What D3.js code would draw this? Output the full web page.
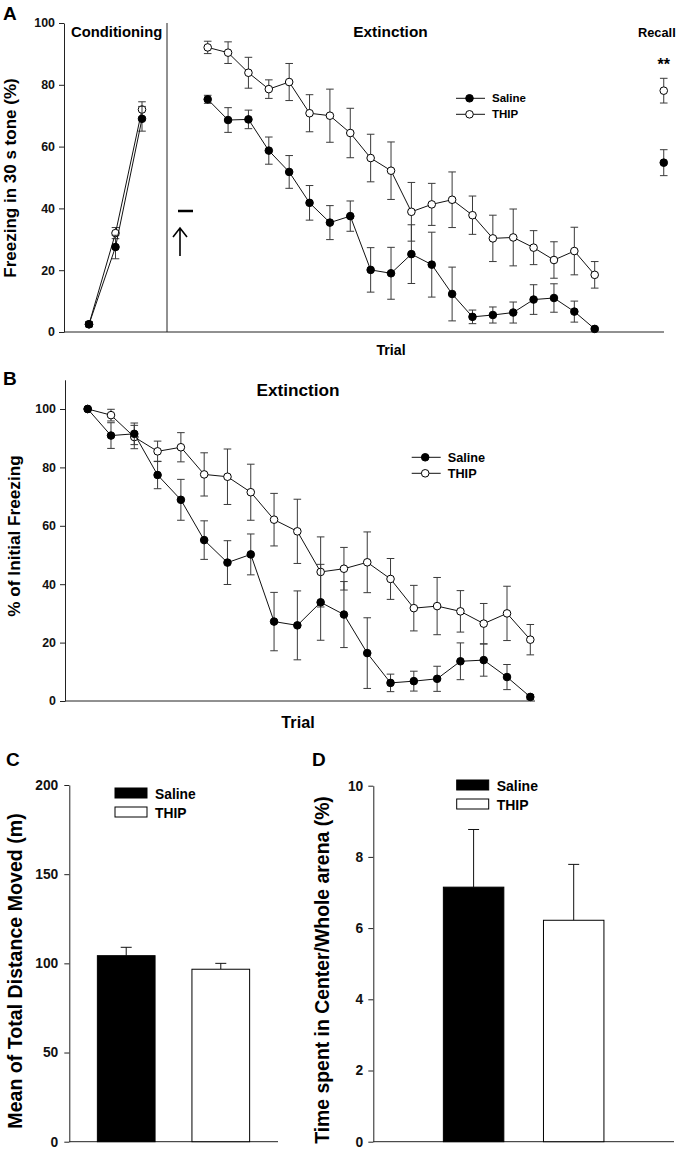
<!DOCTYPE html>
<meta charset="utf-8">
<style>
body{margin:0;background:white;}
svg{display:block;font-family:"Liberation Sans",Arial,Helvetica,sans-serif;font-weight:bold;}
.axis path,.axis line{stroke:#222;}
.axis text{font-weight:bold;fill:#111;}
</style>
<body>
<script src="https://cdn.jsdelivr.net/npm/d3@7"></script>
<script>
// ---- panel A: conditioning / extinction / recall (freezing %) ----
var condTrials = [1, 2, 3];
var condSaline = [2.5, 27.5, 69];
var condSalineErr = [0.8, 3.8, 4];
var condThip = [2.5, 32, 72];
var condThipErr = [0.8, 1.8, 2.5];

var extTrials = d3.range(1, 21);
var extSaline = [75.3, 68.6, 68.8, 58.7, 51.8, 41.8, 35.4, 37.5, 20.1, 19.0,
                 25.2, 21.8, 12.3, 4.9, 5.5, 6.3, 10.5, 11.0, 6.6, 1.0];
var extSalineErr = [1.3, 4, 3, 4.4, 5.3, 5.6, 5.5, 4.9, 7.2, 8.4,
                    9.5, 10.5, 8.7, 2.2, 2.6, 3.4, 4.8, 4.6, 3.4, 0.5];
var extThip = [92.1, 90.4, 83.9, 78.6, 80.9, 70.8, 70.0, 64.4, 56.3, 52.2,
               38.9, 41.3, 42.8, 37.8, 30.3, 30.6, 27.3, 23.3, 26.2, 18.5];
var extThipErr = [2, 3.5, 5, 3, 6, 6, 8.6, 8, 7.7, 9.3,
                  9.5, 6.8, 9, 6.2, 7.5, 9.2, 5.5, 5.9, 7.7, 4.3];

var recallSaline = 54.8, recallSalineErr = 4.2;
var recallThip = 78.1, recallThipErr = 4;

// ---- panel B: % of initial freezing ----
var bSaline = [100, 90.9, 91.5, 77.4, 68.9, 55.1, 47.4, 50.2, 27.2, 25.9,
               33.8, 29.6, 16.4, 6.2, 6.8, 7.6, 13.6, 14.0, 8.2, 1.4];
var bSalineErr = [0, 4.4, 3.7, 4.7, 7, 6.6, 7.5, 7, 10, 11.8,
                  13, 11.3, 12.1, 3, 3.4, 4.3, 6.3, 5.5, 4.3, 0.8];
var bThip = [100, 97.9, 90.4, 85.5, 86.9, 77.6, 76.8, 71.5, 62.1, 58.1,
             44.2, 45.3, 47.5, 41.8, 31.8, 32.5, 30.7, 26.5, 30.0, 21.0];
var bThipErr = [0, 2, 4, 3.5, 5, 7.4, 9.5, 9.6, 9, 11,
                12, 7.3, 10.4, 7, 7.8, 9.8, 7.1, 6.9, 9.3, 5.2];

// ---- panels C, D: open field ----
var groups = ["Saline", "THIP"];
var distMean = [104.3, 96.7];
var distErr = [4.7, 3.3];
var centerMean = [7.15, 6.22];
var centerErr = [1.62, 1.57];

var svg = d3.select("body").append("svg").attr("width", 685).attr("height", 1150);

function pts(ts, vs, es) {
  return ts.map(function(t, i) { return {t: t, v: vs[i], e: es[i]}; });
}

function drawSeries(g, data, x, y, filled, noLine) {
  g.selectAll(null).data(data.filter(function(d){ return d.e > 0; })).enter()
    .append("path")
    .attr("d", function(d) {
      var cx = x(d.t), y1 = y(d.v + d.e), y2 = y(d.v - d.e);
      return "M" + cx + "," + y1 + "V" + y2 +
             "M" + (cx - 3.8) + "," + y1 + "H" + (cx + 3.8) +
             "M" + (cx - 3.8) + "," + y2 + "H" + (cx + 3.8);
    })
    .attr("stroke", "#3a3a3a").attr("stroke-width", 1).attr("fill", "none");
  if (!noLine) {
    g.append("path").datum(data)
      .attr("d", d3.line().x(function(d){ return x(d.t); }).y(function(d){ return y(d.v); }))
      .attr("stroke", "#111").attr("stroke-width", 1).attr("fill", "none");
  }
  g.selectAll(null).data(data).enter().append("circle")
    .attr("cx", function(d){ return x(d.t); })
    .attr("cy", function(d){ return y(d.v); })
    .attr("r", 3.8)
    .attr("fill", filled ? "#000" : "#fff")
    .attr("stroke", "#000").attr("stroke-width", 1);
}

function yAxis(g, y, ticks, fs, pad) {
  g.attr("class", "axis")
    .call(d3.axisLeft(y).tickValues(ticks).tickSize(5).tickSizeOuter(0).tickPadding(pad))
    .attr("font-family", null).attr("font-size", fs);
}

function rotLabel(x, y, txt, fs) {
  svg.append("text").attr("transform", "translate(" + x + "," + y + ") rotate(-90)")
    .attr("text-anchor", "middle").attr("font-size", fs).text(txt);
}

function lineLegend(x, y, fs) {
  [["Saline", true], ["THIP", false]].forEach(function(l, i) {
    var yy = y + i * 16;
    svg.append("line").attr("x1", x).attr("x2", x + 29).attr("y1", yy).attr("y2", yy)
      .attr("stroke", "#111");
    svg.append("circle").attr("cx", x + 13.5).attr("cy", yy).attr("r", 3.8)
      .attr("fill", l[1] ? "#000" : "#fff").attr("stroke", "#000");
    svg.append("text").attr("x", x + 36).attr("y", yy + fs * 0.36).attr("font-size", fs).text(l[0]);
  });
}

function barLegend(x, y, fs) {
  [["Saline", "#000"], ["THIP", "#fff"]].forEach(function(l, i) {
    var yy = y + i * 19;
    svg.append("rect").attr("x", x).attr("y", yy).attr("width", 32).attr("height", 10)
      .attr("fill", l[1]).attr("stroke", "#000");
    svg.append("text").attr("x", x + 40).attr("y", yy + 10.5).attr("font-size", fs).text(l[0]);
  });
}

function panelLetter(x, y, s) {
  svg.append("text").attr("x", x).attr("y", y).attr("font-size", 19).text(s);
}

// ================= A =================
var yA = d3.scaleLinear().domain([0, 100]).range([332, 23]);
var xCond = d3.scaleLinear().domain([1, 3]).range([89, 142]);
var xExt = d3.scaleLinear().domain([1, 20]).range([207.7, 594.7]);
var recallPos = 23.39;

var gA = svg.append("g");
yAxis(gA.append("g").attr("transform", "translate(64,0)"), yA, [0, 20, 40, 60, 80, 100], 12.4, 4);
gA.append("line").attr("x1", 64).attr("x2", 664).attr("y1", yA(0)).attr("y2", yA(0)).attr("stroke", "#222");
gA.append("line").attr("x1", 167).attr("x2", 167).attr("y1", yA(0)).attr("y2", yA(100)).attr("stroke", "#222");

drawSeries(gA, pts(condTrials, condThip, condThipErr), xCond, yA, false);
drawSeries(gA, pts(condTrials, condSaline, condSalineErr), xCond, yA, true);
drawSeries(gA, pts(extTrials, extThip, extThipErr), xExt, yA, false);
drawSeries(gA, pts(extTrials, extSaline, extSalineErr), xExt, yA, true);
drawSeries(gA, [{t: recallPos, v: recallThip, e: recallThipErr}], xExt, yA, false, true);
drawSeries(gA, [{t: recallPos, v: recallSaline, e: recallSalineErr}], xExt, yA, true, true);

gA.append("text").attr("x", 71).attr("y", 37).attr("font-size", 14.8).text("Conditioning");
gA.append("text").attr("x", 390.5).attr("y", 37).attr("text-anchor", "middle").attr("font-size", 15.4).text("Extinction");
gA.append("text").attr("x", 638).attr("y", 37).attr("font-size", 12.8).text("Recall");
gA.append("text").attr("x", xExt(recallPos)).attr("y", 70).attr("text-anchor", "middle").attr("font-size", 16).text("**");
// drug injection marker
gA.append("line").attr("x1", 178).attr("x2", 193).attr("y1", 211).attr("y2", 211).attr("stroke", "#000").attr("stroke-width", 2.5);
gA.append("path").attr("d", "M180,256V229M173,237L180,228L187,237").attr("stroke", "#000").attr("stroke-width", 1.6).attr("fill", "none");
gA.append("text").attr("x", 391).attr("y", 355).attr("text-anchor", "middle").attr("font-size", 14.2).text("Trial");
rotLabel(16, 178, "Freezing in 30 s tone (%)", 17);
lineLegend(456, 98.3, 11.5);
panelLetter(3, 20, "A");

// ================= B =================
var yB = d3.scaleLinear().domain([0, 110]).range([701, 379.8]);
var xB = d3.scaleLinear().domain([1, 20]).range([87.7, 530.3]);
var gB = svg.append("g");
yAxis(gB.append("g").attr("transform", "translate(65,0)"), yB, [0, 20, 40, 60, 80, 100], 12.4, 4);
gB.append("line").attr("x1", 65).attr("x2", 535).attr("y1", yB(0)).attr("y2", yB(0)).attr("stroke", "#222");
drawSeries(gB, pts(extTrials, bThip, bThipErr), xB, yB, false);
drawSeries(gB, pts(extTrials, bSaline, bSalineErr), xB, yB, true);
gB.append("text").attr("x", 298).attr("y", 396).attr("text-anchor", "middle").attr("font-size", 17.2).text("Extinction");
gB.append("text").attr("x", 298).attr("y", 728).attr("text-anchor", "middle").attr("font-size", 16.2).text("Trial");
rotLabel(20, 536, "% of Initial Freezing", 17.2);
lineLegend(411.7, 457.3, 12.7);
panelLetter(3, 385, "B");

// ================= C =================
var yC = d3.scaleLinear().domain([0, 200]).range([1141.7, 785]);
var xC = d3.scaleBand().domain(groups).range([69, 278]).paddingInner(0.39).paddingOuter(0.3);
var gC = svg.append("g");

function bars(g, x, y, means, errs) {
  var data = groups.map(function(k, i) { return {k: k, v: means[i], e: errs[i]}; });
  g.selectAll(null).data(data).enter().append("path")
    .attr("d", function(d) {
      var cx = x(d.k) + x.bandwidth() / 2, yt = y(d.v + d.e);
      return "M" + cx + "," + y(d.v) + "V" + yt + "M" + (cx - 5.5) + "," + yt + "H" + (cx + 5.5);
    })
    .attr("stroke", "#111").attr("fill", "none");
  g.selectAll(null).data(data).enter().append("rect")
    .attr("x", function(d){ return x(d.k); })
    .attr("y", function(d){ return y(d.v); })
    .attr("width", x.bandwidth())
    .attr("height", function(d){ return y(0) - y(d.v); })
    .attr("fill", function(d, i){ return i === 0 ? "#000" : "#fff"; })
    .attr("stroke", "#000");
}

yAxis(gC.append("g").attr("transform", "translate(69.3,0)"), yC, [0, 50, 100, 150, 200], 13.8, 6);
gC.append("line").attr("x1", 69.3).attr("x2", 278).attr("y1", yC(0)).attr("y2", yC(0)).attr("stroke", "#222");
bars(gC, xC, yC, distMean, distErr);
barLegend(115, 788, 13.8);
rotLabel(22, 971, "Mean of Total Distance Moved (m)", 19.6);
panelLetter(6, 766, "C");

// ================= D =================
var yD = d3.scaleLinear().domain([0, 10]).range([1141.7, 785.7]);
var xD = d3.scaleBand().domain(groups).range([373.3, 674]).paddingInner(0.396).paddingOuter(0.7);
var gD = svg.append("g");
yAxis(gD.append("g").attr("transform", "translate(373.3,0)"), yD, [0, 2, 4, 6, 8, 10], 13.8, 5);
gD.append("line").attr("x1", 373.3).attr("x2", 674).attr("y1", yD(0)).attr("y2", yD(0)).attr("stroke", "#222");
bars(gD, xD, yD, centerMean, centerErr);
barLegend(456.7, 780, 14);
rotLabel(329, 970, "Time spent in Center/Whole arena (%)", 19.4);
panelLetter(312, 766, "D");
</script>
</body>
